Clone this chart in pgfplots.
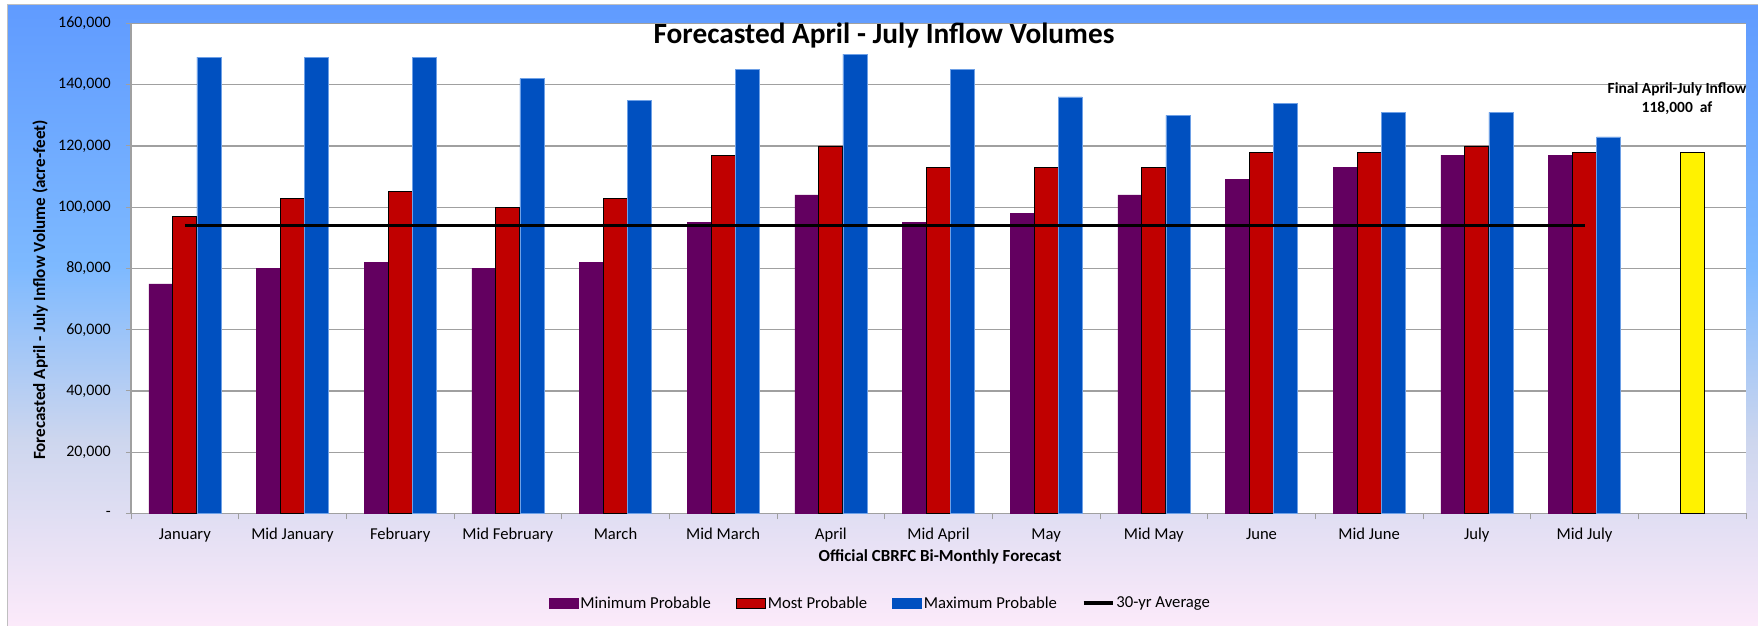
\documentclass[border=0pt]{standalone}
\usepackage{fontspec}
\setmainfont{Carlito}
\usepackage{pgfplots}
\pgfplotsset{compat=1.18}

\definecolor{minp}{RGB}{99,0,96}
\definecolor{mostp}{RGB}{192,0,0}
\definecolor{maxp}{RGB}{0,80,192}
\definecolor{maxedge}{RGB}{110,160,230}
\definecolor{bgtop}{RGB}{96,155,255}
\definecolor{bgmid}{RGB}{125,185,255}
\definecolor{bglow}{RGB}{205,214,238}
\definecolor{bgbot}{RGB}{252,234,250}
\definecolor{gridc}{RGB}{160,160,160}

\pgfdeclareverticalshading{chartbg}{100bp}{color(0bp)=(bgbot); color(25bp)=(bgbot); color(40bp)=(bglow); color(54bp)=(bgmid); color(75bp)=(bgtop); color(100bp)=(bgtop)}

\begin{document}
\begin{tikzpicture}
\useasboundingbox (0pt,0pt) rectangle (1758pt,626pt);
\shade[shading=chartbg] (7pt,0pt) rectangle (1758pt,621pt);
\draw[gray!50, line width=1pt] (7pt,0pt) -- (7pt,621pt) -- (1758pt,621pt);
\fill[white] (131pt,112.5pt) rectangle (1746pt,602.5pt);

\begin{axis}[
    at={(131pt,112.5pt)}, anchor=south west,
    scale only axis, width=1615pt, height=490pt,
    xmin=-0.5, xmax=14.5, ymin=0, ymax=160000,
    axis x line=bottom, axis y line=left,
    axis line style={-, draw=gridc, line width=1.2pt},
    ymajorgrids, major grid style={draw=gridc, line width=1.1pt},
    tick align=outside,
    tick style={draw=gridc, line width=1pt},
    major tick length=5pt, minor tick length=6pt,
    xtick={0,...,13},
    major x tick style={draw=none},
    minor xtick={-0.5,0.5,...,14.5},
    xticklabels={January, Mid January, February, Mid February, March, Mid March, April, Mid April, May, Mid May, June, Mid June, July, Mid July},
    xticklabel style={font=\fontsize{16.6}{19}\selectfont, anchor=base, inner sep=0pt, yshift=-20.5pt},
    ytick={0,20000,...,160000},
    yticklabels={{-\hspace{15pt}},{20,000},{40,000},{60,000},{80,000},{100,000},{120,000},{140,000},{160,000}},
    yticklabel style={font=\fontsize{16}{19}\selectfont, anchor=east, inner sep=0pt, xshift=-15pt},
    scaled y ticks=false,
    legend columns=4,
    legend style={at={(0.464,-0.183)}, anchor=center, draw=none, fill=none,
        font=\fontsize{16.7}{19}\selectfont,
        nodes={inner xsep=2pt, inner ysep=1pt},
        /tikz/every even column/.append style={column sep=23pt}},
]
\addplot[ybar, bar width=0.223, bar shift=-0.223, fill=minp, draw=minp, line width=0.5pt,
    legend image code/.code={\fill[minp] (0pt,-5pt) rectangle (29pt,5pt);}]
coordinates {
    (0,75000) (1,80000) (2,82000) (3,80000) (4,82000) (5,95000) (6,104000)
    (7,95000) (8,98000) (9,104000) (10,109000) (11,113000) (12,117000) (13,117000)
};
\addplot[ybar, bar width=0.223, bar shift=0, fill=mostp, draw=black, line width=0.9pt,
    legend image code/.code={\draw[fill=mostp, draw=black, line width=0.9pt] (0pt,-5pt) rectangle (29pt,5pt);}]
coordinates {
    (0,97000) (1,103000) (2,105000) (3,100000) (4,103000) (5,117000) (6,120000)
    (7,113000) (8,113000) (9,113000) (10,118000) (11,118000) (12,120000) (13,118000)
};
\addplot[ybar, bar width=0.223, bar shift=0.223, fill=maxp, draw=maxedge, line width=0.6pt,
    legend image code/.code={\fill[maxp] (0pt,-5pt) rectangle (29pt,5pt);}]
coordinates {
    (0,149000) (1,149000) (2,149000) (3,142000) (4,135000) (5,145000) (6,150000)
    (7,145000) (8,136000) (9,130000) (10,134000) (11,131000) (12,131000) (13,123000)
};
\addplot[sharp plot, no marks, draw=black, line width=3.4pt,
    legend image code/.code={\draw[black, line width=3.4pt] (0pt,0pt) -- (29pt,0pt);}]
coordinates {(0,94000) (13,94000)};
\addplot[ybar, bar width=0.223, bar shift=0, fill=yellow, draw=black, line width=1pt, forget plot]
coordinates {(14,118000)};
\legend{Minimum Probable, Most Probable, Maximum Probable, 30-yr Average}
\end{axis}

\node[font=\fontsize{29.3}{33}\selectfont\bfseries] at (884pt,590pt) {Forecasted April - July Inflow Volumes};
\node[font=\fontsize{15.5}{19}\selectfont\bfseries, align=center] at (1677pt,527pt) {Final April-July Inflow\\118,000\ \ af};
\node[font=\fontsize{17.1}{20}\selectfont\bfseries, rotate=90] at (40pt,336pt) {Forecasted April - July Inflow Volume (acre-feet)};
\node[font=\fontsize{16.9}{20}\selectfont\bfseries] at (940pt,69pt) {Official CBRFC Bi-Monthly Forecast};
\end{tikzpicture}
\end{document}
